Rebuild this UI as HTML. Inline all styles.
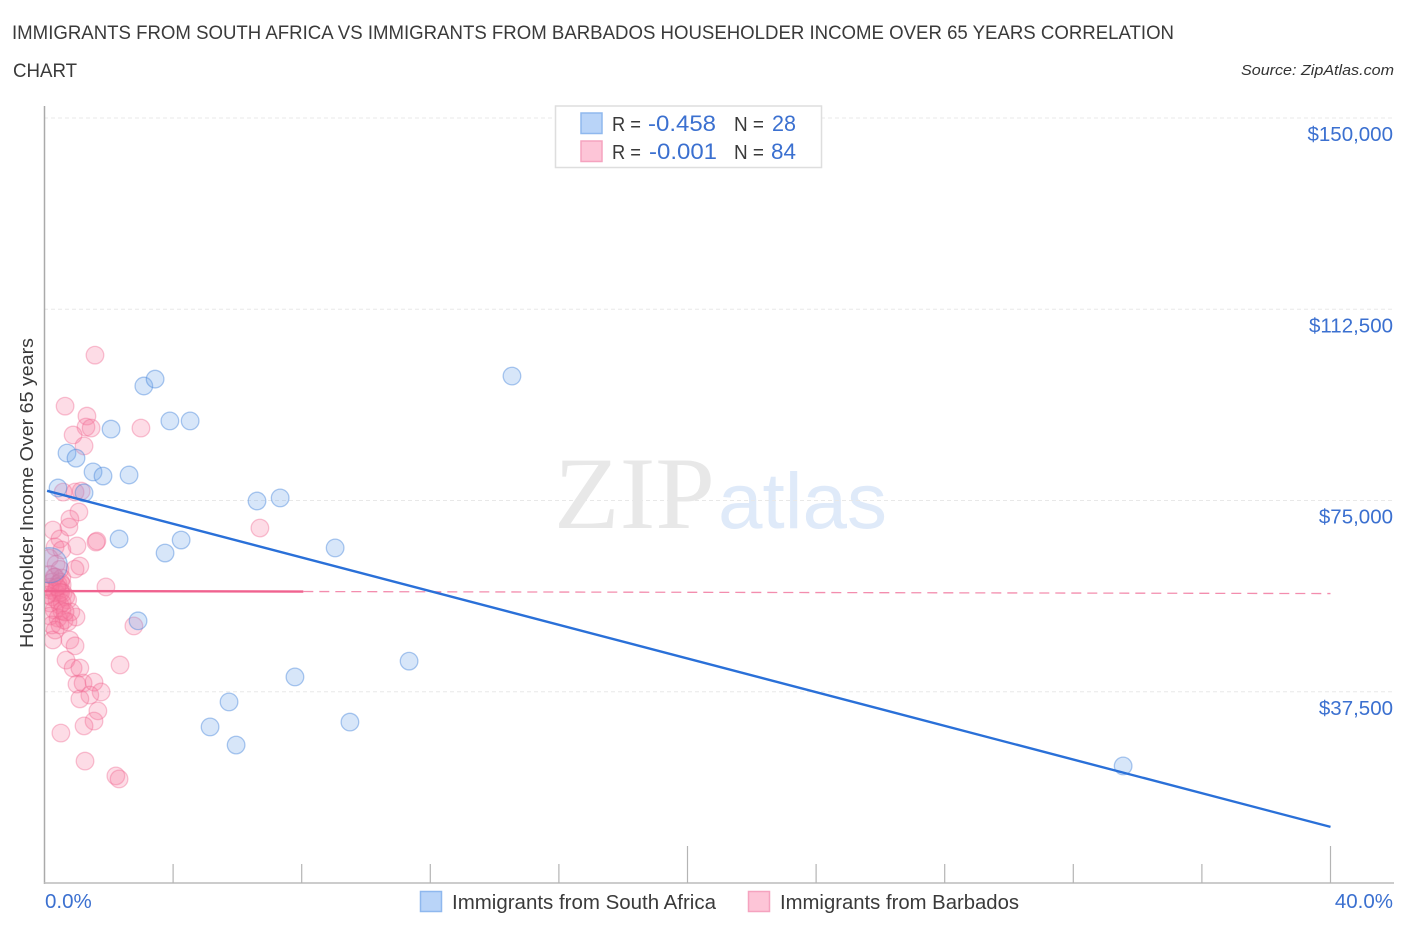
<!DOCTYPE html>
<html lang="en">
<head>
<meta charset="utf-8">
<title>Immigrants from South Africa vs Immigrants from Barbados Householder Income Over 65 Years Correlation Chart</title>
<style>
html,body{margin:0;padding:0;background:#fff;width:1406px;height:930px;overflow:hidden}
svg{display:block;font-family:"Liberation Sans",sans-serif}
</style>
</head>
<body>
<svg id="chart" xmlns="http://www.w3.org/2000/svg" width="1406" height="930" viewBox="0 0 1406 930">
  <defs><clipPath id="plot-clip"><rect x="45" y="100" width="1349" height="783"/></clipPath></defs>
  <rect x="0" y="0" width="1406" height="930" fill="#ffffff"/>
  <text x="12" y="39" font-size="19.5" fill="#3a3a3a" textLength="1162" lengthAdjust="spacingAndGlyphs">IMMIGRANTS FROM SOUTH AFRICA VS IMMIGRANTS FROM BARBADOS HOUSEHOLDER INCOME OVER 65 YEARS CORRELATION</text>
  <text x="13" y="77" font-size="19.5" fill="#3a3a3a" textLength="64" lengthAdjust="spacingAndGlyphs">CHART</text>
  <text x="1241" y="75" font-size="15" font-style="italic" fill="#333" textLength="153" lengthAdjust="spacingAndGlyphs">Source: ZipAtlas.com</text>
  <g>
    <text x="554" y="528" font-family="'Liberation Serif',serif" font-size="103" fill="#e8e8e8" textLength="161" lengthAdjust="spacingAndGlyphs">ZIP</text>
    <text x="718" y="528" font-size="79" fill="#dfeaf9" textLength="169" lengthAdjust="spacingAndGlyphs">atlas</text>
  </g>
  <g id="grid"></g>
  <g id="axes"></g>
  <g id="pink-points" clip-path="url(#plot-clip)"></g>
  <g id="blue-points" clip-path="url(#plot-clip)"></g>
  <g id="trends"></g>
  <g id="labels"></g>
  <text transform="translate(33,648) rotate(-90)" x="0" y="0" font-size="18.5" fill="#3a3a3a" textLength="310" lengthAdjust="spacingAndGlyphs">Householder Income Over 65 years</text>

  <g>
    <rect x="555.5" y="106" width="266" height="61.5" fill="#fff" stroke="#dedede" stroke-width="1.5"/>
    <rect x="581" y="113" width="21" height="20.5" fill="#b9d4f8" stroke="#8fb8ee" stroke-width="1.5"/>
    <rect x="581" y="141" width="21" height="20.5" fill="#fdc5d7" stroke="#f5a3bf" stroke-width="1.5"/>
    <text x="612" y="131" font-size="20" fill="#3a3a3a" textLength="29" lengthAdjust="spacingAndGlyphs">R =</text>
    <text x="648" y="131" font-size="22" fill="#3b70d0" textLength="68" lengthAdjust="spacingAndGlyphs">-0.458</text>
    <text x="734" y="131" font-size="20" fill="#3a3a3a" textLength="30" lengthAdjust="spacingAndGlyphs">N =</text>
    <text x="772" y="131" font-size="22" fill="#3b70d0" textLength="24" lengthAdjust="spacingAndGlyphs">28</text>
    <text x="612" y="159" font-size="20" fill="#3a3a3a" textLength="29" lengthAdjust="spacingAndGlyphs">R =</text>
    <text x="649" y="159" font-size="22" fill="#3b70d0" textLength="68" lengthAdjust="spacingAndGlyphs">-0.001</text>
    <text x="734" y="159" font-size="20" fill="#3a3a3a" textLength="30" lengthAdjust="spacingAndGlyphs">N =</text>
    <text x="771" y="159" font-size="22" fill="#3b70d0" textLength="25" lengthAdjust="spacingAndGlyphs">84</text>
  </g>

  <g>
    <rect x="420.5" y="891.5" width="21" height="20" fill="#b9d4f8" stroke="#8fb8ee" stroke-width="1.5"/>
    <text x="452" y="909" font-size="20" fill="#3a3a3a" textLength="264" lengthAdjust="spacingAndGlyphs">Immigrants from South Africa</text>
    <rect x="748.5" y="891.5" width="21" height="20" fill="#fdc5d7" stroke="#f5a3bf" stroke-width="1.5"/>
    <text x="780" y="909" font-size="20" fill="#3a3a3a" textLength="239" lengthAdjust="spacingAndGlyphs">Immigrants from Barbados</text>
  </g>
</svg>

<script>
var blueX = [0.42,0.70,0.98,1.51,1.82,2.63,2.07,3.09,3.44,3.90,4.53,1.23,2.32,4.25,3.75,14.54,6.61,7.33,9.04,2.91,11.34,7.79,5.74,5.15,5.96,9.50,33.55,0.16];
var blueY = [77450,84300,83300,80600,79800,80000,89000,97450,98800,90600,90600,76500,67450,67250,64700,99400,74900,75500,65700,51400,43500,40400,35500,30600,27050,31550,22950,62300];
var blueWeight = [1,1,1,1,1,1,1,1,1,1,1,1,1,1,1,1,1,1,1,1,1,1,1,1,1,1,1,2];
var pinkX = [1.57,0.64,1.32,1.29,1.45,0.89,1.23,3.00,0.58,0.95,1.14,1.07,0.79,0.76,0.26,1.63,1.60,0.48,1.01,0.33,0.54,6.70,1.10,0.95,1.91,2.78,0.98,0.26,0.79,0.95,0.67,2.35,0.89,1.10,1.01,1.20,1.54,1.76,1.41,1.10,1.66,1.54,1.23,0.51,1.26,2.22,2.32,
0.15,0.36,0.48,0.17,0.33,0.54,0.23,0.42,0.55,0.17,0.33,0.48,0.58,0.66,0.23,0.39,0.72,0.17,0.48,0.55,0.30,0.54,0.82,0.17,0.42,0.61,0.23,0.48,0.73,0.33,0.30,0.17,0.50,0.39,0.50,0.08,0.64];
var pinkY = [103500,93500,91550,89400,89200,87850,85700,89200,76650,76650,76850,72750,71350,69800,69200,67050,66850,67450,66100,65900,65300,69600,62150,61550,58050,50400,52150,47650,47650,46500,43700,42750,42150,42150,39000,39200,39400,37450,36850,36100,33750,31750,30800,29400,23900,21000,20400,
63700,62500,61500,60500,60000,59800,59000,58650,58450,57450,57050,57450,56850,56100,56100,55500,55500,54900,54500,54900,53550,53350,53150,52350,51950,51550,50600,50600,51200,49600,60000,58000,59000,58050,57000,56450,53150];
var blueTrendX = [0.08,40];
var blueTrendY = [76900,11000];
var pinkSolidX = [0,8.05];
var pinkSolidY = [57250,57150];
var pinkDashX = [8.05,40];
var pinkDashY = [57150,56750];
var yTickValues = [37500,75000,112500,150000];
var yTickLabels = ["$37,500","$75,000","$112,500","$150,000"];
var xTickValues = [4,8,12,16,20,24,28,32,36,40];
var xMajorTicks = [20,40];
var xEndValues = [0,40];
var xEndLabels = ["0.0%","40.0%"];

var NS = "http://www.w3.org/2000/svg";
function sx(p){ return 44.5 + p * 32.15; }
function sy(v){ return 883 - v * 0.0051; }
function mk(tag, parent, attrs){
  var el = document.createElementNS(NS, tag);
  for (var k in attrs) el.setAttribute(k, attrs[k]);
  document.getElementById(parent).appendChild(el);
  return el;
}

yTickValues.forEach(function(v, i){
  var g = mk("line", "grid", {x1:44, x2:1394, y1:sy(v), y2:sy(v), stroke:"#e8e8e8", "stroke-width":1, "stroke-dasharray":"4 3"});
  
  
  var t = mk("text", "labels", {x:1393, y:sy(v)+23, "text-anchor":"end", "font-size":20.5, fill:"#3b70d0"});
  t.textContent = yTickLabels[i];
  
  
});

var ya = mk("line", "axes", {x1:44.5, x2:44.5, y1:106, y2:884, stroke:"#aaaaaa", "stroke-width":1.5});


var xa = mk("line", "axes", {x1:44, x2:1394, y1:883, y2:883, stroke:"#bbbbbb", "stroke-width":1.5});



xTickValues.forEach(function(p){
  var isMajor = xMajorTicks.indexOf(p) >= 0;
  var tk = mk("line", "axes", {x1:sx(p), x2:sx(p), y1:isMajor ? 846 : 864, y2:883, stroke:"#b4b4b4", "stroke-width":1.2});
  
  
});

xEndValues.forEach(function(p, i){
  var t = mk("text", "labels", {x:i === 0 ? 45 : 1393, y:908, "text-anchor":i === 0 ? "start" : "end", "font-size":20.5, fill:"#3b70d0"});
  t.textContent = xEndLabels[i];
  
  
});

pinkX.forEach(function(p, i){
  var c = mk("circle", "pink-points", {cx:sx(p), cy:sy(pinkY[i]), r:8.8, fill:"#f9789f", "fill-opacity":0.26, stroke:"#f0648f", "stroke-opacity":0.38, "stroke-width":1.3});
  
  
});

blueX.forEach(function(p, i){
  var c = mk("circle", "blue-points", {cx:sx(p), cy:sy(blueY[i]), r:8.8 * blueWeight[i], fill:"#6ea4ea", "fill-opacity":0.28, stroke:"#4a88dc", "stroke-opacity":0.45, "stroke-width":1.3});
  
  
});

var pd = mk("line", "trends", {x1:sx(pinkDashX[0]), y1:sy(pinkDashY[0]), x2:sx(pinkDashX[1]), y2:sy(pinkDashY[1]), stroke:"#f0709a", "stroke-opacity":0.8, "stroke-width":1.3, "stroke-dasharray":"10 6"});


var ps = mk("line", "trends", {x1:sx(pinkSolidX[0]), y1:sy(pinkSolidY[0]), x2:sx(pinkSolidX[1]), y2:sy(pinkSolidY[1]), stroke:"#f0628f", "stroke-width":2.4});


var bt = mk("line", "trends", {x1:sx(blueTrendX[0]), y1:sy(blueTrendY[0]), x2:sx(blueTrendX[1]), y2:sy(blueTrendY[1]), stroke:"#2a70d8", "stroke-width":2.4});


</script>
</body>
</html>
